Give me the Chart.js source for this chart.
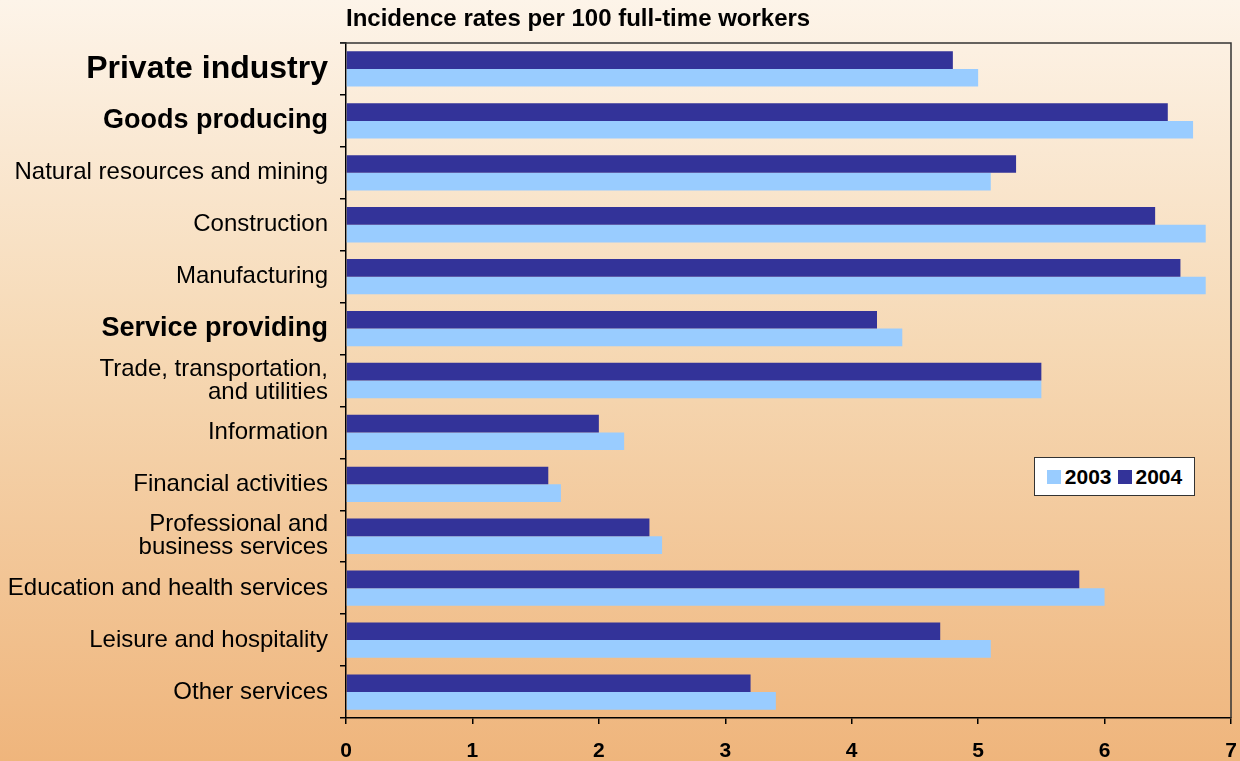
<!DOCTYPE html>
<html>
<head>
<meta charset="utf-8">
<script src="https://cdn.jsdelivr.net/npm/chart.js@4.4.1/dist/chart.umd.min.js"></script>
<style>
  html, body { margin: 0; padding: 0; }
  body {
    width: 1240px; height: 761px; overflow: hidden; position: relative;
    background: linear-gradient(to bottom, #fdf4e9 0%, #f6d9b5 45%, #efb57c 100%);
    font-family: "Liberation Sans", Arial, sans-serif;
  }
  #wrap { position: absolute; left: 0; top: 0; width: 1240px; height: 761px; }
  #title {
    position: absolute; left: 346px; top: 4px;
    font-weight: bold; font-size: 24px; color: #000;
  }
  #legend {
    position: absolute; left: 1034px; top: 457px; width: 161px; height: 39px;
    background: #fff; border: 1.5px solid #333; box-sizing: border-box;
    display: flex; align-items: center; justify-content: center;
    font-weight: bold; font-size: 21px; color: #000;
  }
  #legend .sw { display: inline-block; width: 14px; height: 14px; margin-right: 4px; }
  #legend .item { display: flex; align-items: center; margin: 0 3px; }
</style>
</head>
<body>
<div id="wrap"><canvas id="chart" width="1240" height="761"></canvas></div>
<div id="title">Incidence rates per 100 full-time workers</div>
<div id="legend">
  <span class="item"><span class="sw" style="background:#99ccff"></span>2003</span>
  <span class="item"><span class="sw" style="background:#333399"></span>2004</span>
</div>
<script>
// Categories, top to bottom
const categories = [
    'Private industry',
    'Goods producing',
    'Natural resources and mining',
    'Construction',
    'Manufacturing',
    'Service providing',
    ['Trade, transportation,', 'and utilities'],
    'Information',
    'Financial activities',
    ['Professional and', 'business services'],
    'Education and health services',
    'Leisure and hospitality',
    'Other services'
];

// Incidence rates per 100 full-time workers
const rates2003 = [5.0, 6.7, 5.1, 6.8, 6.8, 4.4, 5.5, 2.2, 1.7, 2.5, 6.0, 5.1, 3.4];
const rates2004 = [4.8, 6.5, 5.3, 6.4, 6.6, 4.2, 5.5, 2.0, 1.6, 2.4, 5.8, 4.7, 3.2];

const xTicks = [0, 1, 2, 3, 4, 5, 6, 7];

// header rows get a bigger bold font
const boldRows = { 0: 32, 1: 27, 5: 27 };

// top and right edges of the plot box
const frame = {
    id: 'frame',
    afterDraw(chart) {
        const a = chart.chartArea;
        const ctx = chart.ctx;
        ctx.save();
        ctx.strokeStyle = '#333';
        ctx.lineWidth = 1.5;
        ctx.beginPath();
        ctx.moveTo(a.left - 6, a.top);
        ctx.lineTo(a.right, a.top);
        ctx.lineTo(a.right, a.bottom);
        ctx.stroke();
        ctx.restore();
    }
};

const ctx = document.getElementById('chart').getContext('2d');
new Chart(ctx, {
    type: 'bar',
    data: {
        labels: categories,
        datasets: [
            { label: '2004', data: rates2004, backgroundColor: '#333399' },
            { label: '2003', data: rates2003, backgroundColor: '#99ccff' }
        ]
    },
    options: {
        indexAxis: 'y',
        responsive: false,
        animation: false,
        layout: { padding: { top: 43, right: 9, left: 0, bottom: 0 } },
        datasets: { bar: { categoryPercentage: 0.68, barPercentage: 1.0 } },
        plugins: {
            legend: { display: false },
            tooltip: { enabled: false }
        },
        scales: {
            x: {
                min: 0, max: 7,
                afterBuildTicks(scale) { scale.ticks = xTicks.map(v => ({ value: v })); },
                grid: { drawOnChartArea: false, drawTicks: true, tickLength: 6, color: '#000', lineWidth: 1.5 },
                border: { color: '#000', width: 1.5 },
                ticks: {
                    color: '#000', padding: 15, maxRotation: 0,
                    font: { family: 'Liberation Sans', weight: 'bold', size: 21 }
                },
                afterFit(scale) {
                    scale.height = 43;
                    // let the last label run off the edge like the original
                    scale.paddingRight = 0;
                    scale.paddingLeft = 0;
                }
            },
            y: {
                grid: { drawOnChartArea: false, drawTicks: true, tickLength: 6, color: '#000', lineWidth: 1.5, offset: true },
                border: { color: '#000', width: 1.5 },
                ticks: {
                    color: '#000', padding: 12, autoSkip: false,
                    font(c) {
                        const s = boldRows[c.index];
                        return s
                            ? { family: 'Liberation Sans', weight: 'bold', size: s, lineHeight: 1.0 }
                            : { family: 'Liberation Sans', weight: 'normal', size: 24, lineHeight: 0.96 };
                    }
                },
                afterFit(scale) { scale.width = 346; }
            }
        }
    },
    plugins: [frame]
});
</script>
</body>
</html>
